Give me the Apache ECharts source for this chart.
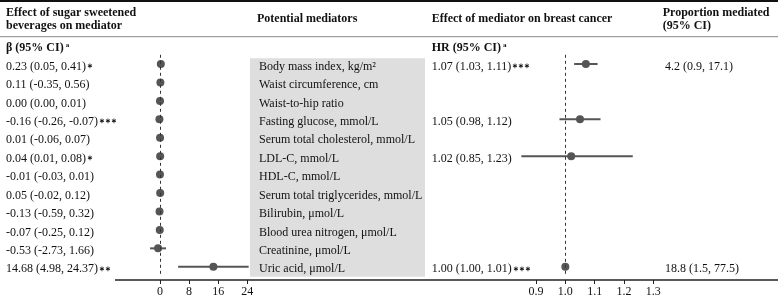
<!DOCTYPE html>
<html>
<head>
<meta charset="utf-8">
<script src="https://cdn.jsdelivr.net/npm/echarts@6/dist/echarts.min.js"></script>
<style>
  html, body { margin: 0; padding: 0; background: #fff; }
  #chart { width: 778px; height: 298px; }
</style>
</head>
<body>
<div id="chart"></div>
<script>
// 中介变量
const mediators = ['Body mass index, kg/m²', 'Waist circumference, cm', 'Waist-to-hip ratio',
  'Fasting glucose, mmol/L', 'Serum total cholesterol, mmol/L', 'LDL-C, mmol/L', 'HDL-C, mmol/L',
  'Serum total triglycerides, mmol/L', 'Bilirubin, μmol/L', 'Blood urea nitrogen, μmol/L',
  'Creatinine, μmol/L', 'Uric acid, μmol/L']

// SSB -> mediator (beta)
const betaEst = [0.23, 0.11, 0.00, -0.16, 0.01, 0.04, -0.01, 0.05, -0.13, -0.07, -0.53, 14.68]
const betaLow = [0.05, -0.35, 0.00, -0.26, -0.06, 0.01, -0.03, -0.02, -0.59, -0.25, -2.73, 4.98]
const betaHigh = [0.41, 0.56, 0.01, -0.07, 0.07, 0.08, 0.01, 0.12, 0.32, 0.12, 1.66, 24.37]
const betaSig = ['*', '', '', '***', '', '*', '', '', '', '', '', '**']

// mediator -> breast cancer (HR)
const hrEst = [1.07, null, null, 1.05, null, 1.02, null, null, null, null, null, 1.00]
const hrLow = [1.03, null, null, 0.98, null, 0.85, null, null, null, null, null, 1.00]
const hrHigh = [1.11, null, null, 1.12, null, 1.23, null, null, null, null, null, 1.01]
const hrSig = ['***', '', '', '', '', '', '', '', '', '', '', '***']

// 中介比例
const propText = ['4.2 (0.9, 17.1)', '', '', '', '', '', '', '', '', '', '', '18.8 (1.5, 77.5)']

// tick labels
const betaTicks = [0, 8, 16, 24]
const hrTicks = [0.9, 1.0, 1.1, 1.2, 1.3]

const FONT = '"Liberation Serif", "Times New Roman", serif'
const MARK = '#555'

const star = s => s ? '{s|' + s.replace(/\*/g, '∗') + '}' : ''
const betaLabel = i => '{t|' + betaEst[i].toFixed(2) + ' (' + betaLow[i].toFixed(2) + ', ' + betaHigh[i].toFixed(2) + ')}' + star(betaSig[i])
const hrLabel = i => hrEst[i] == null ? '' :
  '{t|' + hrEst[i].toFixed(2) + ' (' + hrLow[i].toFixed(2) + ', ' + hrHigh[i].toFixed(2) + ')}' + star(hrSig[i])

const rich = {
  t: { fontFamily: FONT, fontSize: 12, color: '#111' },
  s: { fontFamily: FONT, fontSize: 6.5, fontWeight: 'bold', color: '#111', padding: [0, 0, 0, 1] }
}

const errorBar = (params, api) => {
  const lo = api.coord([api.value(1), api.value(0)])
  const hi = api.coord([api.value(2), api.value(0)])
  return {
    type: 'line',
    shape: { x1: lo[0], y1: lo[1], x2: hi[0], y2: hi[1] },
    style: { stroke: MARK, lineWidth: 2 }
  }
}

const rowAxis = (gridIndex, position, margin, formatter) => ({
  type: 'category',
  gridIndex,
  position,
  inverse: true,
  data: mediators,
  axisLine: { show: false },
  axisTick: { show: false },
  axisLabel: {
    align: 'left',
    margin,
    padding: [5, 0, 0, 0],
    formatter,
    rich
  }
})

const valueAxis = (gridIndex, min, max, interval, ticks) => ({
  type: 'value',
  gridIndex,
  min, max, interval,
  offset: 4,
  axisLine: { show: false },
  splitLine: { show: false },
  axisTick: { show: true, length: 4, customValues: ticks, lineStyle: { color: '#222' } },
  axisLabel: {
    customValues: ticks,
    margin: 6,
    fontFamily: FONT,
    fontSize: 12,
    color: '#111',
    formatter: v => (interval < 1 ? v.toFixed(1) : String(v))
  }
})

const hrRows = hrEst.map((v, i) => [i, v]).filter(d => d[1] != null)

const headFont = 'bold 12px ' + FONT
const supRich = { h: { font: headFont, fill: '#111' }, a: { font: 'bold 7px ' + FONT, fill: '#111', padding: [0, 0, 6, 2] } }
const head = (x, y, text) => ({
  type: 'text',
  style: { x, y, verticalAlign: 'middle', text, font: headFont, fill: '#111' }
})

const option = {
  animation: false,
  grid: [
    { left: 130.9, width: 116.4, top: 54.8, height: 221.2 },
    { left: 506.7, width: 146.6, top: 54.8, height: 221.2 }
  ],
  xAxis: [
    valueAxis(0, -8, 24, 8, betaTicks),
    valueAxis(1, 0.8, 1.3, 0.1, hrTicks)
  ],
  yAxis: [
    rowAxis(0, 'left', 124.9, (v, i) => betaLabel(i)),
    rowAxis(0, 'right', 11.7, v => '{t|' + v + '}'),
    rowAxis(1, 'left', 75, (v, i) => hrLabel(i)),
    rowAxis(1, 'right', 11.7, (v, i) => propText[i] ? '{t|' + propText[i] + '}' : '')
  ],
  graphic: [
    // 灰色背景
    { type: 'rect', z: -10, shape: { x: 250, y: 58.3, width: 175, height: 218.4 }, style: { fill: '#dedede' } },
    { type: 'line', shape: { x1: 0, y1: 1, x2: 778, y2: 1 }, style: { stroke: '#111', lineWidth: 2 } },
    { type: 'line', shape: { x1: 0, y1: 36.7, x2: 778, y2: 36.7 }, style: { stroke: '#888', lineWidth: 1 } },
    { type: 'line', shape: { x1: 115, y1: 280, x2: 778, y2: 280 }, style: { stroke: '#222', lineWidth: 1.5 } },
    head(6, 12.7, 'Effect of sugar sweetened'),
    head(6, 26, 'beverages on mediator'),
    head(257, 19.4, 'Potential mediators'),
    head(431.7, 19.4, 'Effect of mediator on breast cancer'),
    head(662.7, 12.7, 'Proportion mediated'),
    head(662.7, 26, '(95% CI)'),
    {
      type: 'text',
      style: { x: 6, y: 47.7, verticalAlign: 'middle', text: '{h|β (95% CI)}{a|a}', rich: supRich }
    },
    {
      type: 'text',
      style: { x: 431.7, y: 47.7, verticalAlign: 'middle', text: '{h|HR (95% CI)}{a|a}', rich: supRich }
    }
  ],
  series: [
    {
      type: 'custom',
      xAxisIndex: 0, yAxisIndex: 0,
      renderItem: errorBar,
      encode: { x: [1, 2], y: 0 },
      data: betaEst.map((v, i) => [i, betaLow[i], betaHigh[i]])
    },
    {
      type: 'scatter',
      xAxisIndex: 0, yAxisIndex: 0,
      symbolSize: 8,
      itemStyle: { color: MARK, opacity: 1 },
      data: betaEst.map((v, i) => [v, i]),
      markLine: {
        silent: true, symbol: 'none', label: { show: false },
        lineStyle: { type: [3, 3], color: '#333', width: 1 },
        data: [{ xAxis: 0 }]
      }
    },
    {
      type: 'custom',
      xAxisIndex: 1, yAxisIndex: 2,
      renderItem: errorBar,
      encode: { x: [1, 2], y: 0 },
      data: hrRows.map(d => [d[0], hrLow[d[0]], hrHigh[d[0]]])
    },
    {
      type: 'scatter',
      xAxisIndex: 1, yAxisIndex: 2,
      symbolSize: 8,
      itemStyle: { color: MARK, opacity: 1 },
      data: hrRows.map(d => [d[1], d[0]]),
      markLine: {
        silent: true, symbol: 'none', label: { show: false },
        lineStyle: { type: [3, 3], color: '#333', width: 1 },
        data: [{ xAxis: 1 }]
      }
    }
  ]
}

const myChart = echarts.init(document.getElementById('chart'), null, { renderer: 'canvas' })
myChart.setOption(option)
</script>
</body>
</html>
